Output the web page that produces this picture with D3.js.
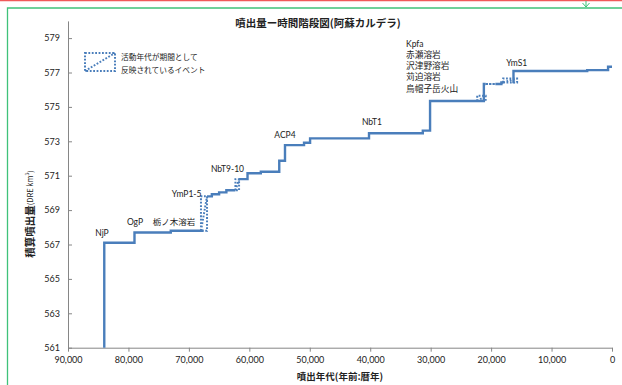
<!DOCTYPE html>
<html><head><meta charset="utf-8">
<script src="https://cdn.jsdelivr.net/npm/d3@7"></script>
<style>
html,body{margin:0;padding:0;background:#fff;}
svg{display:block;}
text{font-family:Lato,"Noto Sans CJK JP",sans-serif;fill:#222;}
.cjk{font-family:"Noto Sans CJK JP",sans-serif;}
</style></head>
<body>
<svg id="chart" width="622" height="385"></svg>
<script>
// ---- data ----
const xTicks = [90000, 80000, 70000, 60000, 50000, 40000, 30000, 20000, 10000, 0];
const yTicks = [561, 563, 565, 567, 569, 571, 573, 575, 577, 579];

// solid step series (years before present, cumulative DRE km3); null breaks the line
const stepYears = [84000, 84000, 79000, 73000, 67600, null,
  67000, 66200, 65000, 63800, 62300, null,
  61700, 60300, 58100, 55050, 54100, 50950, 49950, 40200, 31300, 30100, 21200, 21200, 20900, null,
  19300, 18300, 18000, null,
  16300, 16300, 4100, 650, 0];
const stepValues = [561.0, 567.1, 567.7, 567.8, 567.8, null,
  569.8, 569.92, 570.03, 570.15, 570.15, null,
  570.8, 571.14, 571.23, 571.87, 572.78, 572.92, 573.17, 573.47, 573.62, 575.34, 575.34, 576.33, 576.33, null,
  576.33, 576.42, 576.42, null,
  576.38, 577.09, 577.14, 577.33, 577.33];

// events whose activity age is a period (dotted boxes)
const rangeOld   = [68000, 62300, 22300, 20900, 18000];
const rangeYoung = [67000, 61700, 20900, 19300, 15700];
const rangeFrom  = [567.8, 570.15, 575.34, 576.33, 576.42];
const rangeTo    = [569.8, 570.8, 575.65, 576.33, 576.65];

// event labels
const labelTexts  = ["NjP", "OgP", "栃ノ木溶岩", "YmP1-5", "NbT9-10", "ACP4", "NbT1", "YmS1"];
const labelYears  = [84380, 78920, 72470, 70370, 63620, 54100, 39710, 15770];
const labelValues = [567.65, 568.33, 568.33, 569.94, 571.39, 573.37, 574.13, 577.53];
const listTexts  = ["Kpfa", "赤瀬溶岩", "沢津野溶岩", "苅迫溶岩", "烏帽子岳火山"];
const listYear   = 34080;
const listValues = [578.65, 578.04, 577.43, 576.76, 576.06];

const titleText = "噴出量ー時間階段図(阿蘇カルデラ)";
const xTitle = "噴出年代(年前:暦年)";
const yTitleMain = "積算噴出量";
const legendLines = ["活動年代が期間として", "反映されているイベント"];

// ---- drawing ----
const svg = d3.select("#chart");
const blue = "#4a7ebb";

// frame decorations
svg.append("line").attr("x1",0).attr("x2",622).attr("y1",0.5).attr("y2",0.5)
  .attr("stroke","#f05a5a").attr("stroke-width",1.5);
svg.append("path").attr("d","M7.5,385 L7.5,8 L622,8").attr("fill","none")
  .attr("stroke","#3fc27a").attr("stroke-width",1.3);
svg.append("path").attr("d","M586,1 L586,7 M582.5,3 L586,7 L589.5,3").attr("fill","none")
  .attr("stroke","#3fc27a").attr("stroke-width",1);

const x = d3.scaleLinear().domain([90000, 0]).range([68, 612]);
const y = d3.scaleLinear().domain([561, 580]).range([347.7, 20.9]);

// axes
const gx = svg.append("g").attr("transform", `translate(0,${y(561)})`)
  .call(d3.axisBottom(x).tickValues(xTicks).tickFormat(d3.format(",")).tickSize(4).tickSizeOuter(0));
gx.select(".domain").attr("stroke","#868686");
gx.selectAll(".tick line").attr("stroke","#868686");
gx.selectAll(".tick text").attr("font-size",9).attr("dy","0.95em").attr("fill","#333")
  .style("font-family","Lato,sans-serif");

const gy = svg.append("g").attr("transform", `translate(${x(90000)},0)`)
  .call(d3.axisLeft(y).tickValues(yTicks).tickSize(-4).tickSizeOuter(0).tickPadding(8));
gy.select(".domain").attr("stroke","#868686");
gy.selectAll(".tick line").attr("stroke","#868686");
gy.selectAll(".tick text").attr("font-size",9).attr("fill","#333")
  .style("font-family","Lato,sans-serif");

// step line
const pts = stepYears.map((d,i)=>({yr:d, v:stepValues[i]}));
const line = d3.line().defined(d=>d.yr!==null).x(d=>x(d.yr)).y(d=>y(d.v)).curve(d3.curveStepAfter);
svg.append("path").datum(pts).attr("d", line).attr("fill","none")
  .attr("stroke", blue).attr("stroke-width",2.4).attr("stroke-linejoin","miter");

// dotted range boxes
rangeOld.forEach((o,i)=>{
  const x0=x(o), x1=x(rangeYoung[i]), y0=y(rangeFrom[i]), y1=y(rangeTo[i]);
  svg.append("path")
    .attr("d",`M${x0},${y0} L${x0},${y1} L${x1},${y1} L${x1},${y0} Z M${x0},${y0} L${x1},${y1}`)
    .attr("fill","none").attr("stroke",blue).attr("stroke-width",2)
    .attr("stroke-dasharray","1.8,1.6");
});

// labels
labelTexts.forEach((t,i)=>{
  svg.append("text").attr("x",x(labelYears[i])).attr("y",y(labelValues[i]))
    .attr("text-anchor","middle").attr("dominant-baseline","central")
    .attr("font-size",8.5).attr("fill","#222").text(t);
});
listTexts.forEach((t,i)=>{
  svg.append("text").attr("x",x(listYear)).attr("y",y(listValues[i]))
    .attr("dominant-baseline","central").attr("font-size",i===0?8.5:8.7).attr("fill","#222").text(t);
});

// legend
svg.append("path").attr("d","M85,53 L115,53 L115,71 L85,71 Z M85,71 L115,53")
  .attr("fill","none").attr("stroke",blue).attr("stroke-width",2).attr("stroke-dasharray","1.8,1.6");
legendLines.forEach((t,i)=>{
  svg.append("text").attr("class","cjk").attr("x",121).attr("y",56+i*13.3)
    .attr("dominant-baseline","central").attr("font-size",7.7).text(t);
});

// titles
svg.append("text").attr("class","cjk").attr("x",318).attr("y",22).attr("text-anchor","middle")
  .attr("dominant-baseline","central").attr("font-size",10.5).attr("font-weight","bold").attr("fill","#000").text(titleText);
svg.append("text").attr("class","cjk").attr("x",340).attr("y",376).attr("text-anchor","middle")
  .attr("dominant-baseline","central").attr("font-size",9.5).attr("font-weight","bold").attr("fill","#000").text(xTitle);
const yt = svg.append("text").attr("class","cjk").attr("transform","translate(29,214) rotate(-90)")
  .attr("text-anchor","middle").attr("dominant-baseline","central").attr("fill","#000");
yt.append("tspan").attr("font-size",10.5).attr("font-weight","bold").text(yTitleMain);
yt.append("tspan").attr("font-size",7.5).text("(DRE km");
yt.append("tspan").attr("font-size",5).attr("dy","-3").text("3");
yt.append("tspan").attr("font-size",7.5).attr("dy","3").text(")");
</script>
</body></html>
